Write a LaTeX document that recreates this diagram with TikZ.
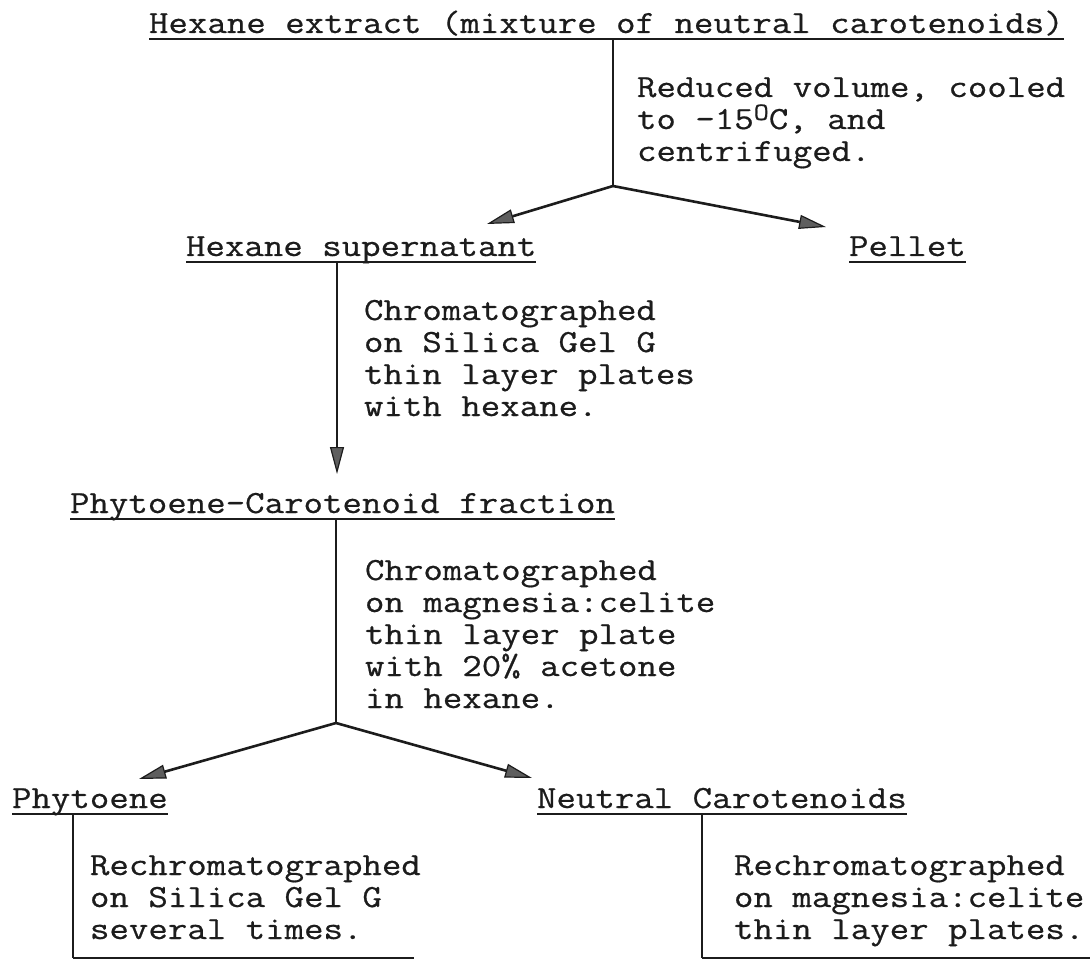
\documentclass[tikz,border=0pt]{standalone}
\usepackage{fontspec}
\setmonofont{Latin Modern Mono}[FakeStretch=1.17, FakeBold=0.6]
\usetikzlibrary{arrows.meta}
\definecolor{ink}{HTML}{1C1C1C}
\definecolor{headfill}{HTML}{5E5E5E}
% wide typewriter face: about 19.4pt per character, 32pt line pitch
\newcommand\typefont{\ttfamily\fontsize{32.3}{32}\selectfont}
\newcommand\supO{\raisebox{9pt}{\fontsize{25}{25}\selectfont O}}
\begin{document}
\begin{tikzpicture}[x=1pt,y=-1pt,
  lbl/.style={anchor=base west, inner sep=0pt, outer sep=0pt, font=\typefont, text=ink},
  note/.style={lbl, align=left},
  uline/.style={draw=ink, line width=2pt},
  conn/.style={draw=ink, line width=1.6pt},
  edge/.style={draw=ink, line width=1.2pt, line cap=butt},
  arr/.style={draw=ink, line width=2.6pt,
    -{Triangle[length=27pt, width=14pt, fill=headfill, line width=1.2pt]}},
  varr/.style={draw=ink, line width=1.6pt,
    -{Triangle[length=27pt, width=14pt, fill=headfill, line width=1.2pt]}}
]
\useasboundingbox (0,0) rectangle (1090,960);

% headings
\node[lbl] (extract) at (149,33) {Hexane extract (mixture of neutral carotenoids)};
\node[lbl] (super)   at (186,256) {Hexane supernatant};
\node[lbl] (pellet)  at (849,256) {Pellet};
\node[lbl] (fraction) at (70,513) {Phytoene-Carotenoid fraction};
\node[lbl] (phytoene) at (12,808) {Phytoene};
\node[lbl] (neutral)  at (537,808) {Neutral Carotenoids};

\foreach \n in {extract,super,pellet,fraction,phytoene,neutral}
  \draw[uline] ([yshift=-6pt]\n.base west) -- ([yshift=-6pt]\n.base east);

% step descriptions (base = baseline of the last line)
\node[note] (reduce) at (637,161) {Reduced volume, cooled\\to -15\supO C, and\\centrifuged.};
\node[note] (silica) at (364,416) {Chromatographed\\on Silica Gel G\\thin layer plates\\with hexane.};
\node[note] (magnesia) at (365,708) {Chromatographed\\on magnesia:celite\\thin layer plate\\with 20\% acetone\\in hexane.};
\node[note] (rechromA) at (90,939) {Rechromatographed\\on Silica Gel G\\several times.};
\node[note] (rechromB) at (734,939) {Rechromatographed\\on magnesia:celite\\thin layer plates.};

% connector points
\coordinate (extractfoot) at (613,39);
\coordinate (split1) at (613,186);
\coordinate (tosuper) at (487,224);
\coordinate (topellet) at (826,227);
\coordinate (superfoot) at (337,262);
\coordinate (tofraction) at (337,474);
\coordinate (fractionfoot) at (336,519);
\coordinate (split2) at (336,723);
\coordinate (tophytoene) at (139,779);
\coordinate (toneutral) at (532,778);
\coordinate (phytoenefoot) at (73,813);
\coordinate (phytoenecorner) at (73,958);
\coordinate (phytoeneend) at (414,958);
\coordinate (neutralfoot) at (702,813);
\coordinate (neutralcorner) at (702,958);
\coordinate (neutralend) at (1090,958);

% connectors
\draw[conn] (extractfoot) -- (split1);
\draw[arr] (split1) -- (tosuper);
\draw[arr] (split1) -- (topellet);
\draw[varr] (superfoot) -- (tofraction);
\draw[conn] (fractionfoot) -- (split2);
\draw[arr] (split2) -- (tophytoene);
\draw[arr] (split2) -- (toneutral);
\draw[conn] (phytoenefoot) -- (phytoenecorner);
\draw[edge] (phytoenecorner) -- (phytoeneend);
\draw[conn] (neutralfoot) -- (neutralcorner);
\draw[edge] (neutralcorner) -- (neutralend);
\end{tikzpicture}
\end{document}
